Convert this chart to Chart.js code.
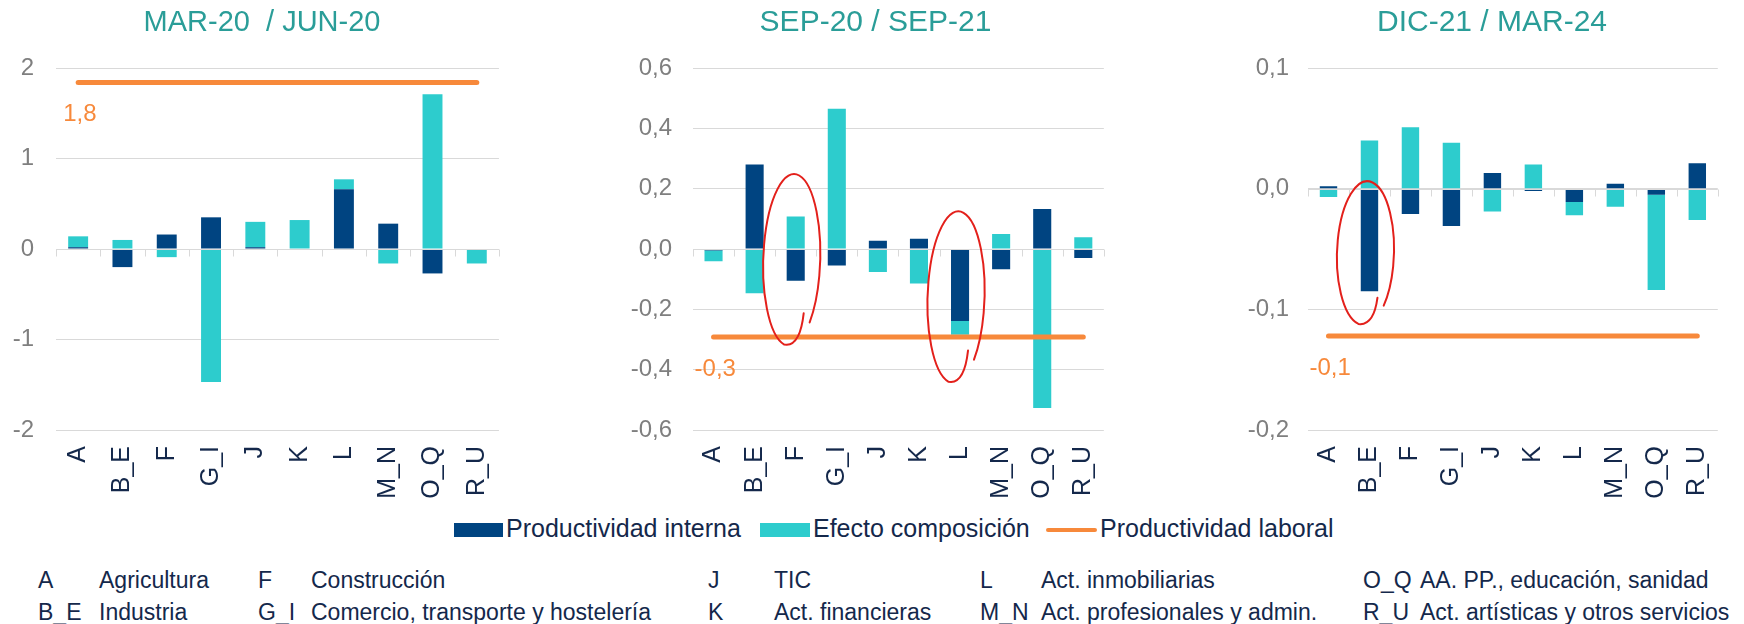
<!DOCTYPE html>
<html><head><meta charset="utf-8">
<script src="https://cdn.jsdelivr.net/npm/chart.js@4/dist/chart.umd.min.js"></script>
<style>
html,body{margin:0;padding:0;background:#fff;overflow:hidden;}
#wrap{position:relative;width:1744px;height:624px;overflow:hidden;font-family:'Liberation Sans',Arial,sans-serif;background:#fff;}
canvas{position:absolute;top:0;}
.t{position:absolute;white-space:pre;color:#14284B;}
</style></head><body><div id="wrap">
<canvas id="c1" width="524" height="500" style="left:0px"></canvas>
<canvas id="c2" width="550" height="500" style="left:580px"></canvas>
<canvas id="c3" width="564" height="500" style="left:1180px"></canvas>
</div>
<script>
// ---------- DATA ----------
const categories = ['A','B_E','F','G_I','J','K','L','M_N','O_Q','R_U'];
const sectorNames = ['Agricultura','Industria','Construcción','Comercio, transporte y hostelería','TIC','Act. financieras','Act. inmobiliarias','Act. profesionales y admin.','AA. PP., educación, sanidad','Act. artísticas y otros servicios'];
const seriesNames = ['Productividad interna','Efecto composición','Productividad laboral'];
const periodTitles = ['MAR-20  / JUN-20','SEP-20 / SEP-21','DIC-21 / MAR-24'];

const interna1 = [0.02, -0.20, 0.16, 0.35, 0.02, -0.01, 0.66, 0.28, -0.27, 0.00];
const composicion1 = [0.12, 0.10, -0.09, -1.47, 0.28, 0.32, 0.11, -0.16, 1.71, -0.16];
const laboral1 = [1.84, 1.84, 1.84, 1.84, 1.84, 1.84, 1.84, 1.84, 1.84, 1.84];
const yTicks1 = [-2, -1, 0, 1, 2];

const interna2 = [-0.005, 0.28, -0.105, -0.055, 0.027, 0.034, -0.239, -0.067, 0.133, -0.030];
const composicion2 = [-0.036, -0.147, 0.108, 0.465, -0.076, -0.114, -0.045, 0.050, -0.527, 0.039];
const laboral2 = [-0.292, -0.292, -0.292, -0.292, -0.292, -0.292, -0.292, -0.292, -0.292, -0.292];
const yTicks2 = [-0.6, -0.4, -0.2, 0, 0.2, 0.4, 0.6];

const interna3 = [0.002, -0.085, -0.021, -0.031, 0.013, -0.002, -0.011, 0.004, -0.005, 0.021];
const composicion3 = [-0.007, 0.040, 0.051, 0.038, -0.019, 0.020, -0.011, -0.015, -0.079, -0.026];
const laboral3 = [-0.122, -0.122, -0.122, -0.122, -0.122, -0.122, -0.122, -0.122, -0.122, -0.122];
const yTicks3 = [-0.2, -0.1, 0, 0.1];

// hand-drawn highlight loops (annotation): category + centre value
const loops2 = [{cat: 'F', y: -0.0365}, {cat: 'L', y: -0.16}];
const loops3 = [{cat: 'B_E', y: -0.0535}];

// ---------- STYLE ----------
const FONT = "'Liberation Sans', Arial, sans-serif";
const NAVY = '#004481', AQUA = '#2DCCCD', ORANGE = '#F7893B', TEAL = '#2A9D98',
      TXT = '#14284B', GRID = '#D9D9D9', TICK = '#7F7F7F', RED = '#E3201B';

function fmt(v, dec) { if (Math.abs(v) < 1e-9) v = 0; return v.toFixed(dec).replace('.', ','); }

const decor = {
  id: 'decor',
  afterDatasetsDraw(chart) {
    const {ctx, chartArea: a, scales: {y}} = chart;
    const y0 = Math.round(y.getPixelForValue(0)) + 0.5;
    const n = chart.data.labels.length;
    ctx.save();
    ctx.strokeStyle = GRID; ctx.lineWidth = 1;
    ctx.beginPath();
    ctx.moveTo(a.left, y0); ctx.lineTo(a.right, y0);
    for (let i = 0; i <= n; i++) {
      const px = Math.round(a.left + i * (a.right - a.left) / n) + 0.5;
      ctx.moveTo(px, y0); ctx.lineTo(px, y0 + 7);
    }
    ctx.stroke();
    ctx.restore();
  },
  afterDraw(chart, args, opts) {
    const {ctx, scales: {x, y}} = chart;
    ctx.save();
    ctx.font = `${opts.titleSize}px ${FONT}`; ctx.fillStyle = TEAL;
    ctx.textAlign = 'center'; ctx.textBaseline = 'alphabetic';
    ctx.fillText(opts.title, opts.titleX, 31);

    const lv = chart.data.datasets[2].data[0];
    ctx.font = `24px ${FONT}`; ctx.fillStyle = ORANGE;
    ctx.textAlign = 'left'; ctx.textBaseline = 'middle';
    ctx.fillText(fmt(lv, 1), x.getPixelForValue(0) + opts.labelDx, y.getPixelForValue(lv) + 32);

    ctx.strokeStyle = RED; ctx.lineWidth = 2; ctx.lineCap = 'round';
    (opts.loops || []).forEach(l => {
      const cx = x.getPixelForValue(categories.indexOf(l.cat)) - 4;
      const cy = y.getPixelForValue(l.y);
      const rx = 28.5, ry = l.ry || 86;
      const t0 = 100 * Math.PI / 180, t1 = 406 * Math.PI / 180;
      ctx.beginPath();
      ctx.moveTo(cx + rx * 0.42, cy + ry * 0.62);
      ctx.quadraticCurveTo(cx + rx * 0.3, cy + ry * 0.98, cx + rx * Math.cos(t0), cy + ry * Math.sin(t0));
      ctx.ellipse(cx, cy, rx, ry, 0.03, t0, t1);
      ctx.stroke();
    });
    ctx.restore();
  }
};

function makeChart(id, c) {
  return new Chart(document.getElementById(id), {
    type: 'bar',
    data: {
      labels: categories,
      datasets: [
        {type: 'bar', label: seriesNames[0], data: c.interna, backgroundColor: NAVY, stack: 's', order: 1,
         barPercentage: c.barPct, categoryPercentage: 1},
        {type: 'bar', label: seriesNames[1], data: c.comp, backgroundColor: AQUA, stack: 's', order: 1,
         barPercentage: c.barPct, categoryPercentage: 1},
        {type: 'line', label: seriesNames[2], data: c.laboral, borderColor: ORANGE, borderWidth: 5,
         pointRadius: 0, borderCapStyle: 'round', fill: false, tension: 0, stack: 'l', order: 0}
      ]
    },
    options: {
      responsive: false, animation: false,
      layout: {padding: {top: 68, right: c.padRight, left: 0, bottom: 0}},
      plugins: {legend: {display: false}, tooltip: {enabled: false}, title: {display: false},
                decor: {title: c.title, titleX: c.titleX, titleSize: c.titleSize, labelDx: c.labelDx, loops: c.loops}},
      scales: {
        x: {stacked: true, grid: {display: false, drawTicks: false}, border: {display: false},
            ticks: {minRotation: 90, maxRotation: 90, autoSkip: false, padding: 16, color: TXT,
                    font: {size: 25, family: FONT}},
            afterFit: s => { s.height = 70; }},
        y: {stacked: true, min: c.yTicks[0], max: c.yTicks[c.yTicks.length - 1],
            grid: {color: GRID, lineWidth: 1, drawTicks: false}, border: {display: false},
            ticks: {padding: c.tickPad, color: TICK, font: {size: 24, family: FONT},
                    callback: v => fmt(v, c.dec)},
            afterBuildTicks: s => { s.ticks = c.yTicks.map(v => ({value: v})); },
            afterFit: s => { s.width = c.yWidth; }}
      }
    },
    plugins: [decor]
  });
}

makeChart('c1', {interna: interna1, comp: composicion1, laboral: laboral1, yTicks: yTicks1, dec: 0,
  barPct: 0.45, padRight: 24, yWidth: 56, tickPad: 22, title: periodTitles[0], titleX: 262, titleSize: 29,
  labelDx: -15, loops: []});
makeChart('c2', {interna: interna2, comp: composicion2, laboral: laboral2, yTicks: yTicks2, dec: 1,
  barPct: 0.44, padRight: 14, yWidth: 113, tickPad: 21, title: periodTitles[1], titleX: 295.5, titleSize: 30,
  labelDx: -19, loops: loops2});
makeChart('c3', {interna: interna3, comp: composicion3, laboral: laboral3, yTicks: yTicks3, dec: 1,
  barPct: 0.425, padRight: 14, yWidth: 128, tickPad: 19, title: periodTitles[2], titleX: 312, titleSize: 30,
  labelDx: -19, loops: loops3.map(l => Object.assign({ry: 72}, l))});

// ---------- LEGEND & KEY (HTML text) ----------
const wrap = document.getElementById('wrap');
function addText(txt, left, baseline, fs) {
  const s = document.createElement('span');
  s.className = 't'; s.textContent = txt;
  s.style.fontSize = fs + 'px'; s.style.lineHeight = fs + 'px';
  s.style.left = left + 'px'; s.style.top = (baseline - 0.8465 * fs) + 'px';
  wrap.appendChild(s);
}
function addBox(left, top, w, h, color, radius) {
  const d = document.createElement('div');
  Object.assign(d.style, {position: 'absolute', left: left + 'px', top: top + 'px', width: w + 'px',
    height: h + 'px', background: color, borderRadius: (radius || 0) + 'px'});
  wrap.appendChild(d);
}
addBox(454, 523, 49, 14, NAVY);
addText(seriesNames[0], 506, 537.3, 25);
addBox(760, 523, 50, 14, AQUA);
addText(seriesNames[1], 813, 537.3, 25);
addBox(1046, 528, 51, 4, ORANGE, 2);
addText(seriesNames[2], 1100, 537.3, 25);

const keyCodeX = [38, 258, 708, 980, 1363];
const keyNameX = [99, 311, 774, 1041, 1420];
const keyBase = [588.3, 620];
categories.forEach((code, i) => {
  const col = Math.floor(i / 2), row = i % 2;
  addText(code, keyCodeX[col], keyBase[row], 23);
  addText(sectorNames[i], keyNameX[col], keyBase[row], 23);
});
</script></body></html>
